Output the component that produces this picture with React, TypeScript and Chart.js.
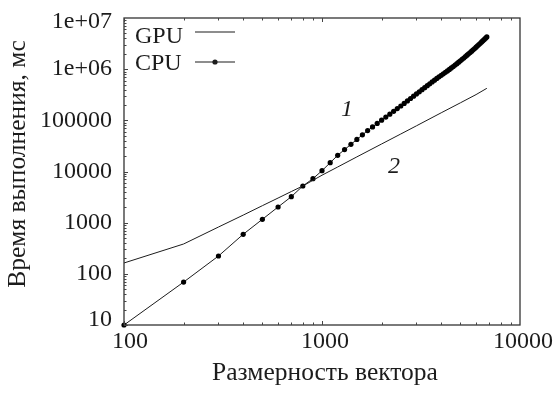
import React, { useEffect, useRef } from "react";
import { Chart, registerables } from "chart.js";

Chart.register(...registerables);

const CPU_SIZES = [
  100, 200, 300, 400, 500, 600, 700, 800, 900, 1000,
  1100, 1200, 1300, 1400, 1500, 1600, 1700, 1800, 1900, 2000,
  2100, 2200, 2300, 2400, 2500, 2600, 2700, 2800, 2900, 3000,
  3100, 3200, 3300, 3400, 3500, 3600, 3700, 3800, 3900, 4000,
  4100, 4200, 4300, 4400, 4500, 4600, 4700, 4800, 4900, 5000,
  5100, 5200, 5300, 5400, 5500, 5600, 5700, 5800, 5900, 6000,
  6100, 6200, 6300, 6400, 6500, 6600, 6700, 6800,
];
const CPU_TIMES = [
  10, 69, 223, 593, 1164, 2024, 3222, 5210, 7240, 10370,
  14860, 20730, 26800, 33900, 42300, 52000, 63100, 74300, 86900, 100500,
  115600, 132100, 150100, 169500, 190500, 214200, 239600, 266900, 296100, 327500,
  361100, 396600, 434500, 475000, 517600, 562700, 610500, 660700, 707400, 757300,
  809800, 865600, 925900, 989300, 1056200, 1127900, 1203200, 1283100, 1368600, 1458500,
  1553800, 1654100, 1761000, 1873000, 1993100, 2117800, 2249800, 2388200, 2536600, 2692300,
  2854000, 3027500, 3208000, 3400600, 3600200, 3810400, 4034400, 4266000,
];
const GPU_SIZES = [100, 200, 300, 400, 500, 600, 700, 800, 900, 1000, 1200, 1500, 2000, 2500, 3000, 4000, 5000, 6000, 6800];
const GPU_TIMES = [163, 383, 822, 1406, 2150, 3030, 4060, 5210, 6730, 8470, 12250, 19300, 34500, 54100, 78200, 140400, 220000, 318500, 422700];

const X_TICKS = [100, 1000, 10000];
const X_TICK_LABELS = ["100", "1000", "10000"];
const Y_TICKS = [10, 100, 1000, 10000, 100000, 1000000, 10000000];
const Y_TICK_LABELS = ["10", "100", "1000", "10000", "100000", "1e+06", "1e+07"];

const X_TITLE = "Размерность вектора";
const Y_TITLE = "Время выполнения, мс";
const SERIES_NAMES = ["GPU", "CPU"];
const CURVE_LABELS = ["1", "2"];

const FONT_FAMILY = "'Liberation Serif', 'Times New Roman', serif";
const INK = "#1c1c1c";

const decorPlugin = {
  id: "decor",
  afterDraw(chart: any) {
    const { ctx, chartArea, scales } = chart;
    const { left, right, top, bottom } = chartArea;
    const xs = scales.x;
    const ys = scales.y;
    ctx.save();
    ctx.strokeStyle = "#333";
    ctx.lineWidth = 1.3;
    ctx.strokeRect(left, top, right - left, bottom - top);

    ctx.lineWidth = 1;
    ctx.strokeStyle = "#444";
    for (let d = 100; d < 10000; d *= 10) {
      for (let k = 1; k <= 9; k++) {
        const px = Math.round(xs.getPixelForValue(d * k)) + 0.5;
        const len = k === 1 ? 4 : 2.5;
        ctx.beginPath();
        ctx.moveTo(px, bottom);
        ctx.lineTo(px, bottom - len);
        ctx.moveTo(px, top);
        ctx.lineTo(px, top + len);
        ctx.stroke();
      }
    }
    for (let d = 10; d < 10000000; d *= 10) {
      for (let k = 1; k <= 9; k++) {
        const py = Math.round(ys.getPixelForValue(d * k)) + 0.5;
        const len = k === 1 ? 4 : 2.5;
        ctx.beginPath();
        ctx.moveTo(left, py);
        ctx.lineTo(left + len, py);
        ctx.stroke();
      }
    }

    ctx.fillStyle = INK;
    ctx.strokeStyle = INK;

    // tick labels
    ctx.font = `24px ${FONT_FAMILY}`;
    ctx.textBaseline = "middle";
    ctx.textAlign = "right";
    Y_TICKS.forEach((v, i) => {
      let py = ys.getPixelForValue(v);
      if (i === 0) py -= 5;
      if (i === Y_TICKS.length - 1) py += 4;
      ctx.fillText(Y_TICK_LABELS[i], left - 12, py);
    });
    ctx.textAlign = "center";
    X_TICKS.forEach((v, i) => {
      const px = xs.getPixelForValue(v) + (i === 0 ? 6 : 3);
      ctx.fillText(X_TICK_LABELS[i], px, bottom + 17);
    });

    // axis titles
    ctx.font = `25.5px ${FONT_FAMILY}`;
    ctx.fillText(X_TITLE, 325, 373);
    ctx.save();
    ctx.translate(18, 164);
    ctx.rotate(-Math.PI / 2);
    ctx.fillText(Y_TITLE, 0, 0);
    ctx.restore();

    // legend
    ctx.font = `24px ${FONT_FAMILY}`;
    ctx.textAlign = "left";
    ctx.textBaseline = "alphabetic";
    ctx.fillText(SERIES_NAMES[0], 135, 43);
    ctx.fillText(SERIES_NAMES[1], 135, 70);
    ctx.lineWidth = 1.2;
    ctx.beginPath();
    ctx.moveTo(195, 32);
    ctx.lineTo(235, 32);
    ctx.moveTo(195, 62);
    ctx.lineTo(235, 62);
    ctx.stroke();
    ctx.beginPath();
    ctx.arc(215, 62, 2.6, 0, Math.PI * 2);
    ctx.fill();

    // curve labels
    ctx.font = `italic 24px ${FONT_FAMILY}`;
    ctx.textAlign = "center";
    ctx.textBaseline = "middle";
    ctx.fillText(CURVE_LABELS[0], 347, 110);
    ctx.fillText(CURVE_LABELS[1], 394, 167);
    ctx.restore();
  },
};

export default function App() {
  const ref = useRef<HTMLCanvasElement>(null);
  useEffect(() => {
    const chart = new Chart(ref.current as HTMLCanvasElement, {
      type: "line",
      data: {
        datasets: [
          {
            label: SERIES_NAMES[0],
            data: GPU_SIZES.map((x, i) => ({ x, y: GPU_TIMES[i] })),
            borderColor: INK,
            borderWidth: 1,
            pointRadius: 0,
            clip: 8,
          } as any,
          {
            label: SERIES_NAMES[1],
            data: CPU_SIZES.map((x, i) => ({ x, y: CPU_TIMES[i] })),
            borderColor: INK,
            borderWidth: 1,
            pointRadius: 2.6,
            pointBackgroundColor: "#000",
            pointBorderWidth: 0,
            clip: 8,
          } as any,
        ],
      },
      options: {
        animation: false,
        responsive: false,
        maintainAspectRatio: false,
        layout: { padding: { left: 0, top: 18, right: 37, bottom: 0 } },
        plugins: { legend: { display: false }, tooltip: { enabled: false } },
        scales: {
          x: {
            type: "logarithmic",
            position: "bottom",
            min: 100,
            max: 10000,
            afterBuildTicks: (s: any) => {
              s.ticks = X_TICKS.map((v) => ({ value: v }));
            },
            afterFit: (s: any) => {
              s.height = 69;
            },
            ticks: { display: false },
            grid: { display: false, drawTicks: false },
            border: { display: false },
          },
          y: {
            type: "logarithmic",
            position: "left",
            min: 10,
            max: 10000000,
            afterBuildTicks: (s: any) => {
              s.ticks = Y_TICKS.map((v) => ({ value: v }));
            },
            afterFit: (s: any) => {
              s.width = 124;
            },
            ticks: { display: false },
            grid: { display: false, drawTicks: false },
            border: { display: false },
          },
        },
      } as any,
      plugins: [decorPlugin],
    });
    return () => chart.destroy();
  }, []);
  return (
    <div style={{ position: "fixed", left: 0, top: 0, width: 557, height: 394, background: "#fff" }}>
      <canvas ref={ref} width={557} height={394} style={{ width: 557, height: 394, display: "block" }} />
    </div>
  );
}
